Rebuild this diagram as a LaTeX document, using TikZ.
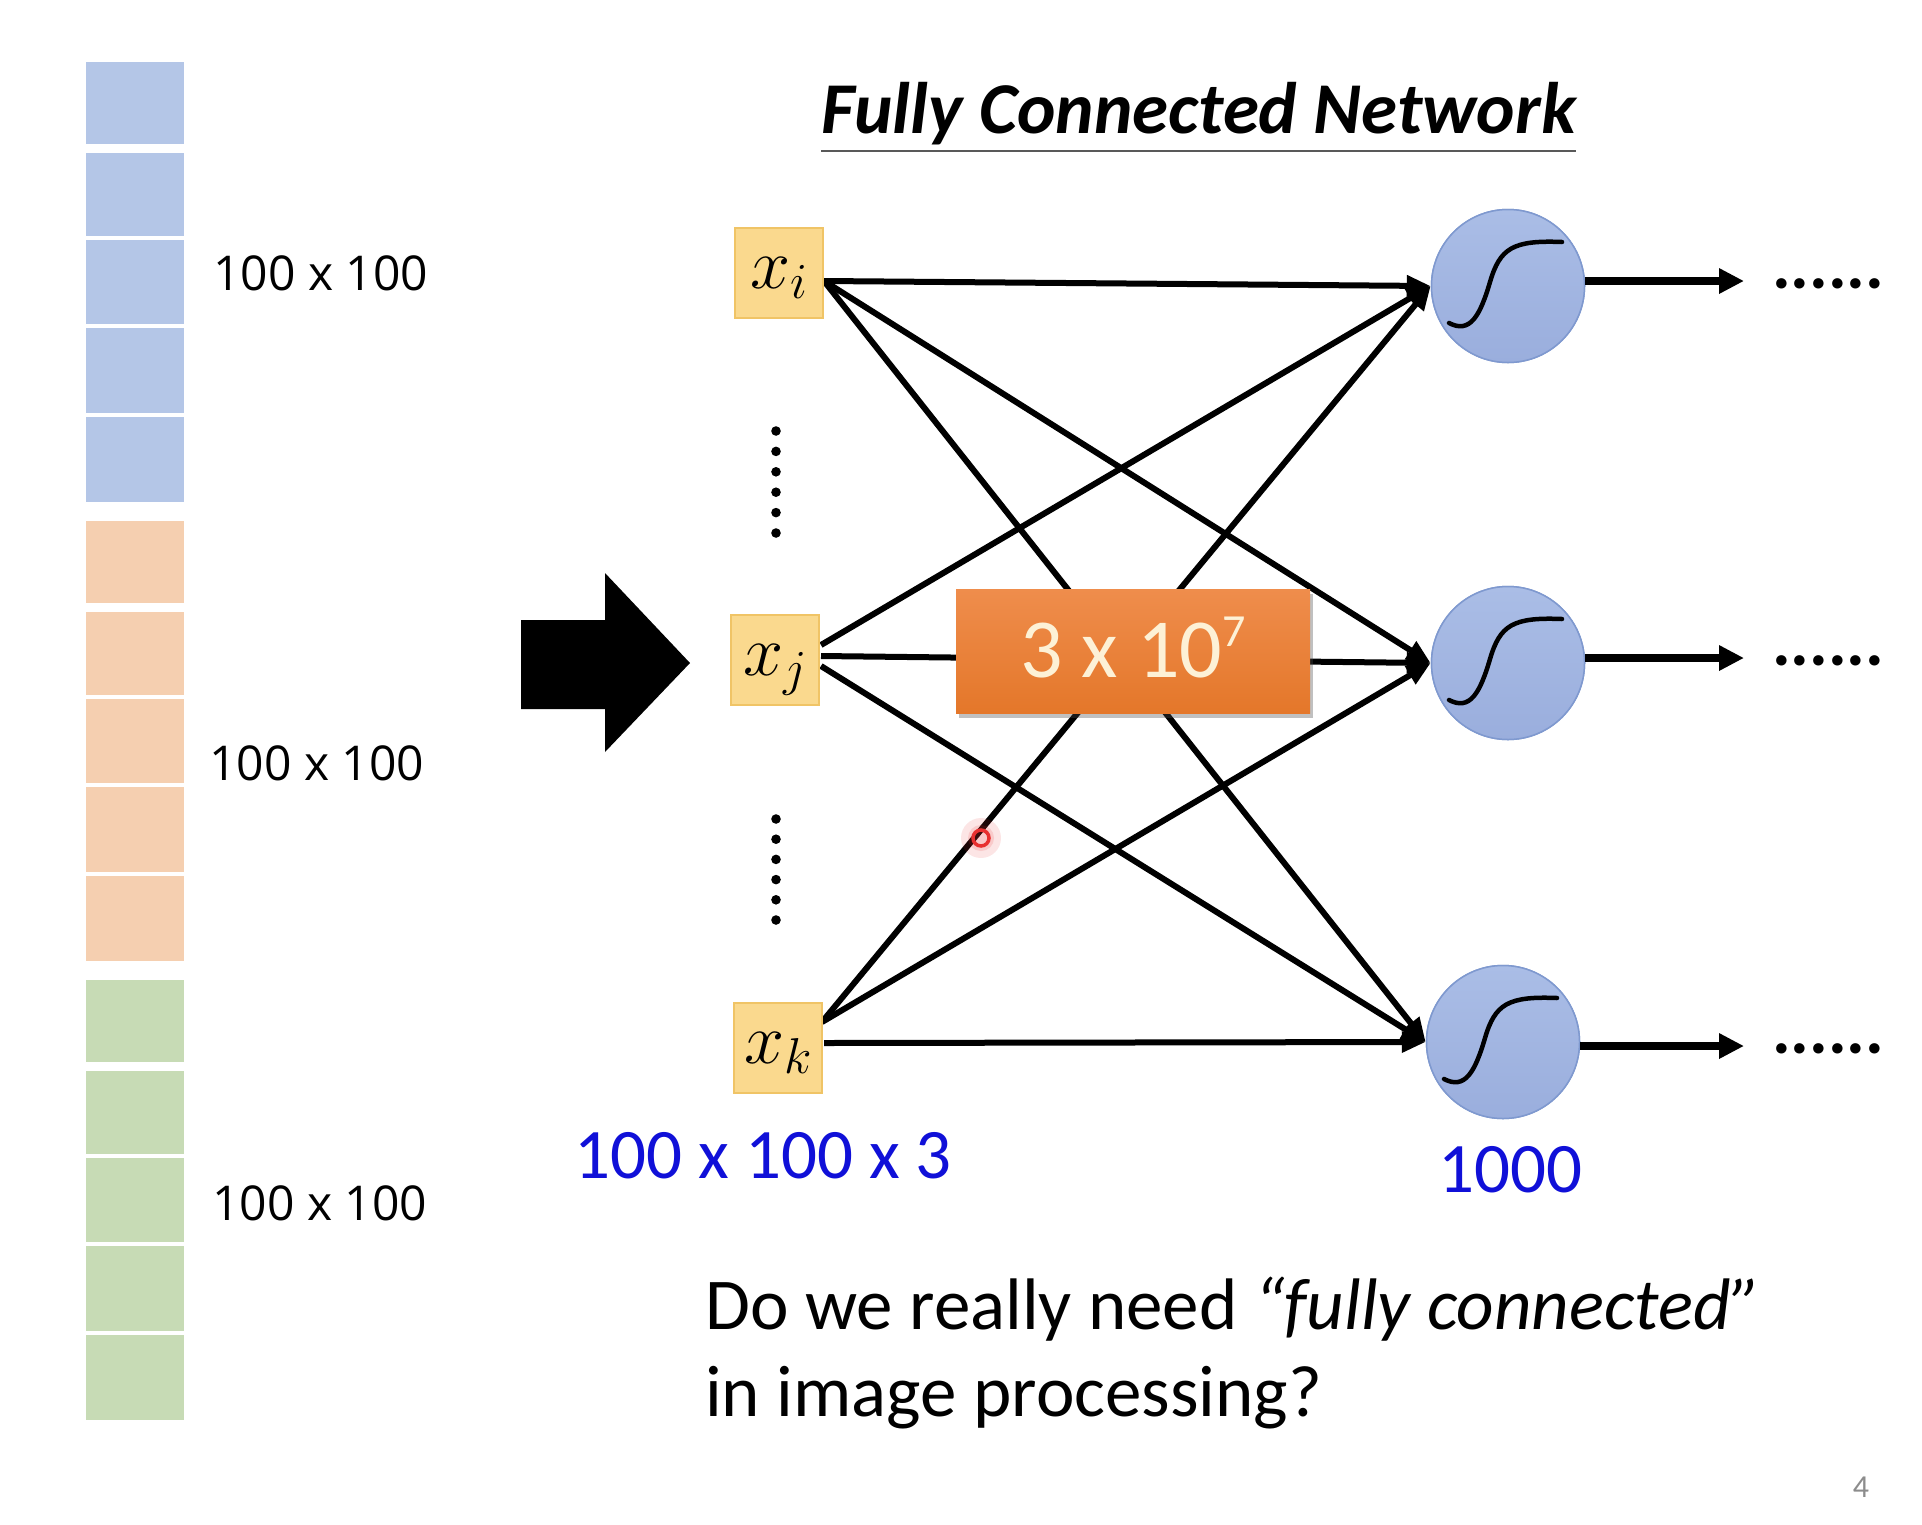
\RequirePackage{fix-cm}
\documentclass[tikz,border=0pt]{standalone}
\usepackage{fontspec}
\setmainfont{Carlito}
\newfontfamily\osfont{Open Sans}
\usetikzlibrary{arrows.meta,shadows}
\definecolor{colblue}{HTML}{B4C6E7}
\definecolor{colorange}{HTML}{F5CFB0}
\definecolor{colgreen}{HTML}{C7DBB5}
\definecolor{inbf}{HTML}{FAD98E}
\definecolor{inbd}{HTML}{F0C466}
\definecolor{nb1}{HTML}{AABDE6}
\definecolor{nb2}{HTML}{9AAEDD}
\definecolor{nbd}{HTML}{7F99CF}
\definecolor{or1}{HTML}{EF8D4C}
\definecolor{or2}{HTML}{E4772A}
\definecolor{cream}{HTML}{FDF1D6}
\definecolor{dimblue}{HTML}{1010D8}
\definecolor{ptrred}{HTML}{E83030}
\begin{document}
\begin{tikzpicture}[x=1pt,y=-1pt,
  inbox/.style={draw=inbd, fill=inbf, line width=1.5pt, minimum width=88pt, minimum height=90pt, inner sep=0pt, font=\fontsize{72}{80}\selectfont, text height=30pt, text depth=0pt},
  neuron/.style={circle, draw=nbd, line width=1.5pt, top color=nb1, bottom color=nb2, minimum size=153pt, inner sep=0pt},
  conn/.style={line width=6pt, -{Triangle[length=24pt,width=20pt]}},
  outarr/.style={line width=8pt, -{Triangle[length=25pt,width=24pt]}},
  sig/.style={line width=4.5pt, line cap=round},
  dimlbl/.style={font=\osfont\fontsize{48}{56}\selectfont, inner sep=0pt, anchor=base west},
  bluelbl/.style={text=dimblue, font=\fontsize{71}{80}\selectfont, inner sep=0pt, anchor=base west},
  qtext/.style={font=\fontsize{73}{87}\selectfont, inner sep=0pt, anchor=base west},
  dotdot/.style={font=\bfseries\fontsize{70}{70}\selectfont, inner sep=0pt, anchor=base west},
  obox/.style={top color=or1, bottom color=or2, minimum width=354pt, minimum height=124pt, inner sep=0pt,
    drop shadow={shadow xshift=3pt, shadow yshift=-5pt, opacity=0.35, fill=black!70},
    text=cream, font=\fontsize{84}{90}\selectfont, text height=53pt, text depth=0pt},
]
\useasboundingbox (0,0) rectangle (1922,1524);
\fill[white] (0,0) rectangle (1922,1524);

% column of image blocks
\foreach \g/\c in {62/colblue,521/colorange,980/colgreen}{
  \foreach \a/\b in {0/82,91/174,178/262,266/351,355/440}{
    \fill[\c] (86,\g+\a) rectangle (184,\g+\b);
  }
}
\node[dimlbl] (l1) at (213,290) {100 x 100};
\node[dimlbl] (l2) at (209,780) {100 x 100};
\node[dimlbl] (l3) at (212,1220) {100 x 100};

% big arrow
\fill (521,620) -- (605,620) -- (605,573) -- (690,663) -- (605,752) -- (605,709) -- (521,709) -- cycle;

% title
\node[font=\bfseries\itshape\fontsize{73}{80}\selectfont, inner sep=0pt, anchor=base west] (title) at (821,133) {Fully Connected Network};
\draw[black!65, line width=2.5pt] ([yshift=-18pt]title.base west) -- ([yshift=-18pt]title.base east);

% neuron nodes
\node[neuron] (n1) at (1508,286) {};
\node[neuron] (n2) at (1508,663) {};
\node[neuron] (n3) at (1503,1042) {};

\coordinate (pi) at (824,281);
\coordinate (pjU) at (821,645);
\coordinate (pjM) at (821,656);
\coordinate (pjD) at (821,666);
\coordinate (pkU) at (822,1022);
\coordinate (pkM) at (824,1043);

% connectors
\draw[conn] (pi) -- (n1.west);
\draw[conn] (pi) -- (n2.west);
\draw[conn] (pi) -- (n3.west);
\draw[conn] (pjU) -- (n1.west);
\draw[conn] (pjM) -- (n2.west);
\draw[conn] (pjD) -- (n3.west);
\draw[conn] (pkU) -- (n1.west);
\draw[conn] (pkU) -- (n2.west);
\draw[conn] (pkM) -- (n3.west);

% redraw neurons above line ends
\node[neuron] at (n1.center) {};
\node[neuron] at (n2.center) {};
\node[neuron] at (n3.center) {};

% orange box
\node[obox] (big) at (1133,651) {3 x 10\raisebox{31pt}{\fontsize{46}{46}\selectfont 7}};

% input boxes
\node[inbox] (xi) at (779,273) {$x_i$};
\node[inbox] (xj) at (775,660) {$x_j$};
\node[inbox] (xk) at (778,1048) {$x_k$};

% vertical dots
\foreach \k in {0,...,5}{
  \fill (776,431+\k*20.4) circle (4.8);
  \fill (776,819+\k*20.2) circle (4.8);
}

% sigmoid curves
\foreach \n in {n1,n2,n3}{
  \begin{scope}[shift={(\n.center)}]
    \draw[sig] (-59,37) .. controls (-38,48) and (-28,30) .. (-18,-4) .. controls (-8,-38) and (5,-46) .. (54,-44);
  \end{scope}
}

% output arrows
\coordinate (o1) at (1744,281);
\coordinate (o2) at (1744,658);
\coordinate (o3) at (1744,1046);
\draw[outarr] (n1.east |- o1) -- (o1);
\draw[outarr] (n2.east |- o2) -- (o2);
\draw[outarr] (n3.east |- o3) -- (o3);
\node[dotdot] (d1) at (1772,288) {......};
\node[dotdot] (d2) at (1772,665) {......};
\node[dotdot] (d3) at (1772,1053) {......};

% blue dimension labels
\node[bluelbl] (dimin) at (574,1178) {100 x 100 x 3};
\node[bluelbl] (dimout) at (1438,1192) {1000};

% question
\node[qtext] (q1) at (705,1329) {Do we really need \textit{“fully connected”}};
\node[qtext] (q2) at (705,1416) {in image processing?};

% laser pointer
\coordinate (ptr) at (981,838);
\fill[ptrred, opacity=0.12] (ptr) circle (20);
\fill[ptrred, opacity=0.15] (ptr) circle (13);
\draw[ptrred, line width=3.5pt] (ptr) circle (8);

% page number
\node[text=black!45, font=\fontsize{32}{32}\selectfont, inner sep=0pt, anchor=base] (pg) at (1861,1497) {4};
\end{tikzpicture}
\end{document}
